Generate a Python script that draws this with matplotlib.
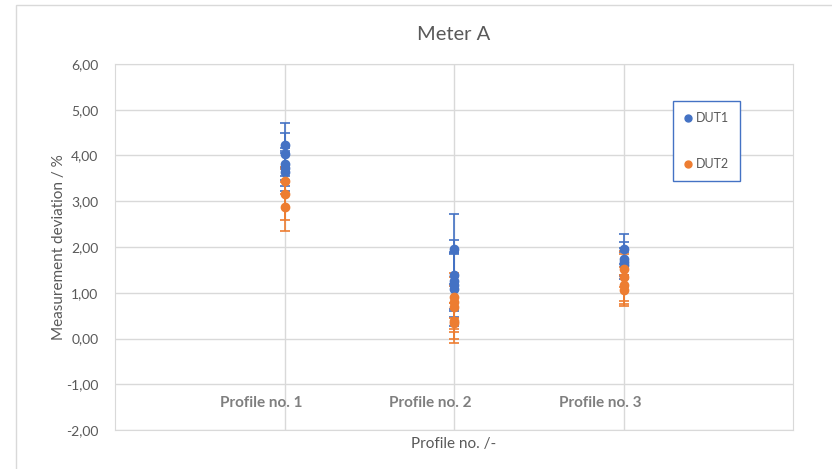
import matplotlib.pyplot as plt
from matplotlib.patches import Rectangle
from matplotlib.lines import Line2D
from matplotlib.ticker import FuncFormatter

# measurement deviation per profile, DUT1 / DUT2, with symmetric error bars
profiles = ['Profile no. 1', 'Profile no. 2', 'Profile no. 3']

dut1_x = [1, 1, 1, 1, 1, 2, 2, 2, 2, 2, 3, 3, 3, 3]
dut1_y = [4.23, 4.03, 3.82, 3.72, 3.64, 1.96, 1.38, 1.25, 1.16, 1.09, 1.96, 1.74, 1.67, 1.60]
dut1_err = [0.48, 0.47, 0.35, 0.38, 0.41, 0.77, 0.78, 0.60, 0.70, 0.81, 0.33, 0.36, 0.30, 0.30]

dut2_x = [1, 1, 1, 2, 2, 2, 2, 2, 3, 3, 3, 3]
dut2_y = [3.45, 3.15, 2.88, 0.90, 0.79, 0.68, 0.38, 0.34, 1.52, 1.34, 1.16, 1.05]
dut2_err = [0.30, 0.55, 0.54, 0.45, 0.65, 0.47, 0.40, 0.43, 0.40, 0.51, 0.40, 0.34]

blue = '#4472C4'
orange = '#ED7D31'
grey = '#595959'
grid = '#D9D9D9'

plt.rcParams['font.family'] = ['Lato', 'DejaVu Sans']

fig = plt.figure(figsize=(8.32, 4.69), dpi=100)
fig.patches.append(Rectangle((16 / 832, -0.1), 1.2, 1.1 - 5 / 469, transform=fig.transFigure,
                             fill=False, edgecolor=grid, lw=1))
ax = fig.add_axes([115 / 832, 39 / 469, 678 / 832, 366 / 469])

ax.errorbar(dut1_x, dut1_y, yerr=dut1_err, fmt='o', color=blue, ms=6, capsize=3.5,
            elinewidth=1.2, capthick=1.2, zorder=3)
ax.errorbar(dut2_x, dut2_y, yerr=dut2_err, fmt='o', color=orange, ms=6, capsize=3.5,
            elinewidth=1.2, capthick=1.2, zorder=3)

ax.set_xlim(0, 4)
ax.set_ylim(-2, 6)
ax.set_yticks(range(-2, 7))
ax.yaxis.set_major_formatter(FuncFormatter(lambda v, p: f'{v:.2f}'.replace('.', ',')))
ax.set_xticks([1, 2, 3])
ax.set_xticklabels([])
ax.tick_params(length=0, labelsize=10, colors=grey, pad=12)
ax.grid(True, color=grid, lw=1, zorder=0)
for s in ax.spines.values():
    s.set_color(grid)

for i, name in enumerate(profiles):
    ax.text(i + 1 - 0.14, -1.4, name, ha='center', va='center', fontsize=11,
            fontweight='bold', color='#7F7F7F')

ax.set_title('Meter A', fontsize=14.5, color=grey, pad=17)
ax.set_ylabel('Measurement deviation / %', fontsize=11, color=grey, labelpad=0)
ax.set_xlabel('Profile no. /-', fontsize=11, color=grey, labelpad=-7)

handles = [Line2D([], [], ls='none', marker='o', ms=5, color=blue),
           Line2D([], [], ls='none', marker='o', ms=5, color=orange)]
leg = ax.legend(handles, ['DUT1', 'DUT2'], loc='upper left', bbox_to_anchor=(0.823, 0.899),
                borderaxespad=0, handletextpad=0.3, handlelength=0.6, labelspacing=2.7,
                fontsize=9, fancybox=False, borderpad=0.9, framealpha=1)
leg.get_frame().set_edgecolor(blue)
leg.get_frame().set_linewidth(1)
for t in leg.get_texts():
    t.set_color(grey)

fig.savefig('out.png', dpi=100)
